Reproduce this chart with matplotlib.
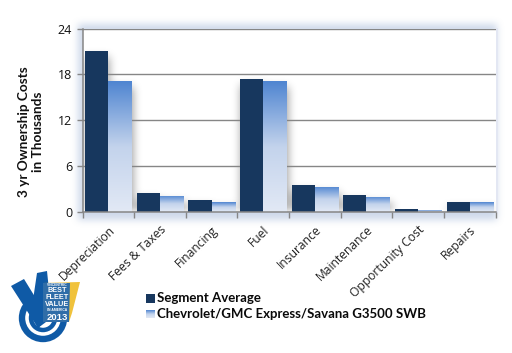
import numpy as np
import matplotlib
matplotlib.use("Agg")
from matplotlib import pyplot as plt
from matplotlib.colors import LinearSegmentedColormap
from matplotlib.patches import Circle, Polygon, Rectangle

categories = ["Depreciation", "Fees & Taxes", "Financing", "Fuel", "Insurance",
              "Maintenance", "Opportunity Cost", "Repairs"]
segment_avg = [21.0, 2.5, 1.55, 17.35, 3.5, 2.2, 0.4, 1.3]
chevrolet = [17.1, 2.1, 1.3, 17.1, 3.3, 2.0, 0.25, 1.3]
y_ticks = [0, 6, 12, 18, 24]
series_names = ["Segment Average", "Chevrolet/GMC Express/Savana G3500 SWB"]

W, H = 512, 353
NAVY = "#17375e"
GRID = "#868686"
grad = LinearSegmentedColormap.from_list("bar", ["#e2e9f5", "#c3d3ec", "#4f85d1"])
gradient = np.linspace(1, 0, 128).reshape(-1, 1)


def blur(a, size, passes=3):
    kernel = np.ones(size) / size
    for _ in range(passes):
        a = np.apply_along_axis(lambda r: np.convolve(r, kernel, mode="same"), 0, a)
        a = np.apply_along_axis(lambda r: np.convolve(r, kernel, mode="same"), 1, a)
    return a


def axes_px(left, top, right, bottom):
    return [left / W, 1 - bottom / H, (right - left) / W, (bottom - top) / H]


fig = plt.figure(figsize=(W / 100, H / 100), dpi=100, facecolor="white")

# soft blue glow behind the plot frame
bg = fig.add_axes([0, 0, 1, 1], zorder=0)
bg.set_xlim(0, W)
bg.set_ylim(H, 0)
bg.axis("off")
glow = np.zeros((H, W))
glow[24:220, 78:497] = 1
glow = blur(glow, 7)
rgba = np.zeros((H, W, 4))
rgba[..., :3] = matplotlib.colors.to_rgb("#9fb4d6")
rgba[..., 3] = glow * 0.5
bg.imshow(rgba, extent=(0, W, H, 0), aspect="auto")
bg.add_patch(Rectangle((495, 28), 2.5, 185, color="#e3e7f3", lw=0))

ax = fig.add_axes(axes_px(82.5, 28.5, 495.5, 212), zorder=1, facecolor="white")
x = np.arange(len(categories))
bw = 0.447

ax.set_xlim(-0.5, len(categories) - 0.5)
ax.set_ylim(0, 24)

# blurred shadow under the bars
nx, ny = 413, 184
mask = np.zeros((ny, nx))
xs = (np.arange(nx) + 0.5) / nx * len(categories) - 0.5
ys = (1 - (np.arange(ny) + 0.5) / ny) * 24
for i in x:
    mask[np.ix_(ys < segment_avg[i] - 0.8, (xs > i - bw) & (xs < i))] = 1
    mask[np.ix_(ys < chevrolet[i] - 0.8, (xs > i) & (xs < i + bw + 0.03))] = 1
mask = blur(mask, 9)
shadow = np.zeros((ny, nx, 4))
shadow[..., 3] = mask * 0.4
ax.imshow(shadow, extent=(-0.5, len(categories) - 0.5, 0, 24), aspect="auto", zorder=1)

ax.bar(x - bw / 2, segment_avg, bw, color=NAVY, zorder=3)
for xi, v in zip(x, chevrolet):
    rect = ax.bar(xi + bw / 2, v, bw, color="none", zorder=3)[0]
    im = ax.imshow(gradient, extent=(xi, xi + bw, 0, v), aspect="auto", cmap=grad,
                   vmin=0, vmax=1, zorder=3)
    im.set_clip_path(rect)
ax.set_xlim(-0.5, len(categories) - 0.5)
ax.set_ylim(0, 24)

ax.set_yticks(y_ticks)
ax.set_xticks(np.arange(len(categories) + 1) - 0.5)
ax.set_xticklabels([])
ax.set_xticks(x, categories, minor=True)
ax.tick_params(axis="x", which="minor", length=0, pad=8)
ax.tick_params(axis="both", which="major", length=4, width=1, color=GRID, labelsize=9,
               labelcolor="#111111")
for lab in ax.get_xticklabels(minor=True):
    lab.set(rotation=44, ha="right", va="top", rotation_mode="anchor", fontsize=8.7,
            family="Open Sans", color="#222222")
for lab in ax.get_yticklabels():
    lab.set_family("Open Sans")
ax.grid(axis="y", color=GRID, lw=1.0, zorder=2)
ax.set_axisbelow(False)
for g in ax.get_ygridlines():
    g.set_zorder(2)
for s in ["top", "right"]:
    ax.spines[s].set_visible(False)
for s in ["left", "bottom"]:
    ax.spines[s].set_color(GRID)
    ax.spines[s].set_linewidth(1.1)
    ax.spines[s].set_zorder(4)

fig.text(31 / W, 1 - 132 / H, "3 yr Ownership Costs\nin Thousands", rotation=90, ha="center",
         va="center", fontsize=9.8, fontweight="bold", family="Lato", color="#111111",
         linespacing=1.2)

# overlay for legend and logo, in pixels
top = fig.add_axes([0, 0, 1, 1], zorder=3)
top.set_xlim(0, W)
top.set_ylim(H, 0)
top.axis("off")
top.patch.set_alpha(0)

top.add_patch(Rectangle((146, 294), 9, 9, color=NAVY, lw=0))
swatch = fig.add_axes(axes_px(146, 310, 155, 318), zorder=3)
swatch.imshow(gradient, aspect="auto", cmap=grad, vmin=0, vmax=1)
swatch.axis("off")
top.text(157, 298.5, series_names[0], fontsize=9.5, fontweight="bold", family="Lato",
         va="center", color="#0a0a0a")
top.text(157, 314.5, series_names[1], fontsize=9.5, fontweight="bold", family="Lato",
         va="center", color="#0a0a0a")

# badge
BLUE = "#0f5aa6"
top.add_patch(Circle((43, 318), 21, fill=False, ec=BLUE, lw=4.6))
top.add_patch(Circle((43, 318), 12, fill=False, ec=BLUE, lw=3.2))
top.add_patch(Polygon([[11, 286], [24, 279], [48, 318], [38, 328]], color=BLUE, lw=0))
top.add_patch(Polygon([[37, 273], [47, 271], [50, 300], [46, 322], [38, 328], [33, 300]],
                      color=BLUE, lw=0))
top.add_patch(Polygon([[43, 283], [80, 282], [72, 313], [69, 322], [43, 322]],
                      color="#f0c23c", lw=0))
top.add_patch(Polygon([[43, 283], [70, 283], [69, 322], [43, 322]], color="#2f6da8", lw=0))
for txt, yy, fs in [("VINCENTRIC", 285, 2.4), ("BEST", 291, 5.2), ("FLEET", 297.8, 5.2),
                    ("VALUE", 304.6, 5.2), ("IN AMERICA", 310.2, 2.4), ("2013", 317, 6.8)]:
    top.text(57, yy, txt, color="white", fontsize=fs, fontweight="bold", ha="center",
             va="center", family="Liberation Sans")

fig.savefig("out.png", dpi=100, facecolor="white")
